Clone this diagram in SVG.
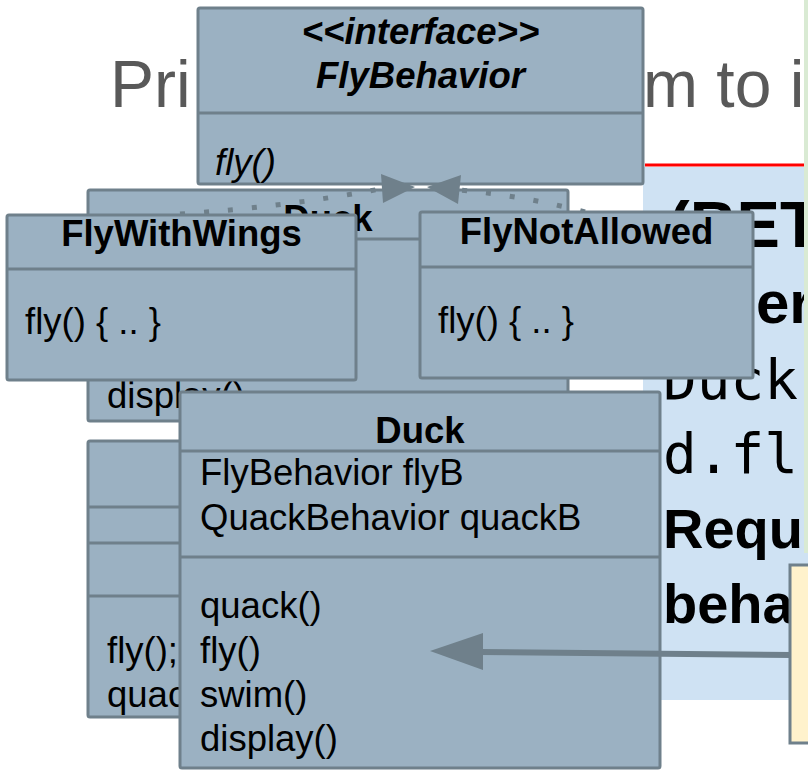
<svg xmlns="http://www.w3.org/2000/svg" width="808" height="772" viewBox="0 0 808 772">
<style>
.box{fill:#9bb1c2;stroke:#6f808b;stroke-width:3}
.dv{stroke:#6f808b;stroke-width:3;fill:none}
.t{font-family:"Liberation Sans",Arial,sans-serif;font-size:36.5px;fill:#000}
.b{font-weight:bold}
.i{font-style:italic}
.c{text-anchor:middle}
.ttl{font-family:"Liberation Sans",Arial,sans-serif;font-size:66px;fill:#595959}
.pb{font-family:"Liberation Sans",Arial,sans-serif;font-weight:bold;fill:#000}
.pm{font-family:"DejaVu Sans Mono","Liberation Mono",monospace;font-size:56px;fill:#000}
.dot{fill:none;stroke:#6f808b;stroke-width:5;stroke-dasharray:5 19}
.ah{fill:#6f808b;stroke:none}
</style>
<rect width="808" height="772" fill="#fff"/>
<g id="title">
<text class="ttl" x="110" y="107">Pri</text>
<text class="ttl" x="643" y="107">m to i</text>
</g>
<g id="panel">
<rect x="645" y="163.5" width="163" height="3" fill="#ff0000"/>
<rect x="643" y="167" width="165" height="533" fill="#cfe2f3"/>
<text class="pb" x="668" y="247" font-size="65">(BET</text>
<text class="pb" x="756" y="323" font-size="60">er</text>
<text class="pm" x="663" y="399">Duck</text>
<text class="pm" x="663" y="473">d.fl</text>
<text class="pb" x="663" y="548" font-size="56">Requ</text>
<text class="pb" x="663" y="623" font-size="56">beha</text>
<rect x="804" y="0" width="4" height="553" fill="#d9ead3"/>
</g>
<g id="FlyBehavior">
<rect class="box" x="198" y="8" width="445" height="176" rx="2"/>
<line class="dv" x1="198" y1="113" x2="643" y2="113"/>
<text class="t b i c" x="420.5" y="44">&lt;&lt;interface&gt;&gt;</text>
<text class="t b i c" x="420.5" y="88">FlyBehavior</text>
<text class="t i" x="215" y="175">fly()</text>
</g>
<g id="DuckOld">
<rect class="box" x="88" y="190" width="480" height="231" rx="2"/>
<line class="dv" x1="88" y1="239" x2="568" y2="239"/>
<text class="t b c" x="328" y="231">Duck</text>
<text class="t" x="107" y="408">display()</text>
</g>
<g id="DuckOld2">
<rect class="box" x="88" y="441" width="480" height="276" rx="2"/>
<line class="dv" x1="88" y1="507" x2="568" y2="507"/>
<line class="dv" x1="88" y1="543" x2="568" y2="543"/>
<line class="dv" x1="88" y1="596" x2="568" y2="596"/>
<text class="t" x="107" y="663">fly();</text>
<text class="t" x="107" y="707">quac</text>
</g>
<g id="connectors">
<path class="dot" d="M180,214 Q285,207 380,189"/>
<path class="dot" d="M585,212 Q525,196 460,190"/>
<polygon class="ah" points="381,174 383,203 415,187"/>
<polygon class="ah" points="461,175 458,204 427,187"/>
</g>
<g id="FlyWithWings">
<rect class="box" x="7" y="215" width="349" height="165" rx="2"/>
<line class="dv" x1="7" y1="269" x2="356" y2="269"/>
<text class="t b c" x="181.5" y="246">FlyWithWings</text>
<text class="t" x="25" y="334">fly() { .. }</text>
</g>
<g id="FlyNotAllowed">
<rect class="box" x="420" y="212" width="333" height="166" rx="2"/>
<line class="dv" x1="420" y1="267" x2="753" y2="267"/>
<text class="t b c" x="586.5" y="244">FlyNotAllowed</text>
<text class="t" x="438" y="333">fly() { .. }</text>
</g>
<g id="Duck">
<rect class="box" x="180" y="392" width="480" height="376" rx="2"/>
<line class="dv" x1="180" y1="451" x2="660" y2="451"/>
<line class="dv" x1="180" y1="557" x2="660" y2="557"/>
<text class="t b c" x="420" y="443">Duck</text>
<text class="t" x="200" y="485">FlyBehavior flyB</text>
<text class="t" x="200" y="530">QuackBehavior quackB</text>
<text class="t" x="200" y="618">quack()</text>
<text class="t" x="200" y="663">fly()</text>
<text class="t" x="200" y="707">swim()</text>
<text class="t" x="200" y="751">display()</text>
</g>
<g id="arrow">
<line x1="792" y1="655" x2="480" y2="652" stroke="#6f808b" stroke-width="6"/>
<polygon class="ah" points="430,651 483,633 483,670"/>
</g>
<g id="note">
<rect x="790" y="565" width="30" height="178" fill="#fff2cc" stroke="#6f808b" stroke-width="3"/>
</g>
</svg>
